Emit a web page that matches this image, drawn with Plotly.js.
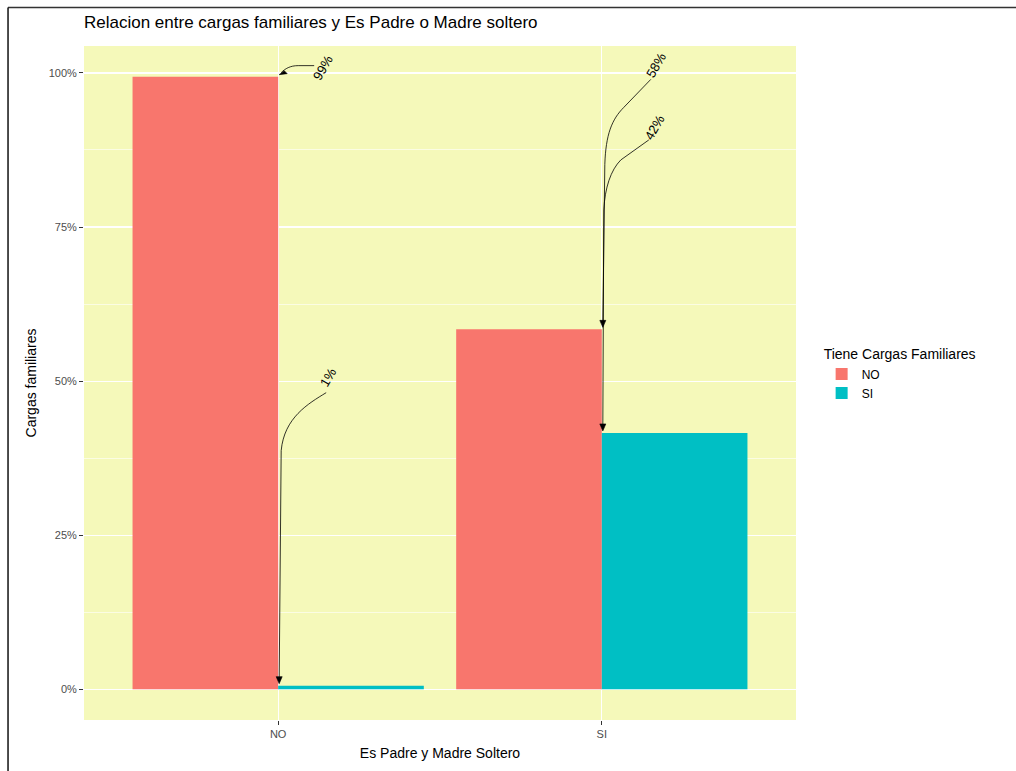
<!DOCTYPE html>
<html>
<head>
<meta charset="utf-8">
<script src="https://cdn.plot.ly/plotly-3.0.1.min.js"></script>
<style>html,body{margin:0;padding:0;background:#fff;}#chart{width:1016px;height:771px;}</style>
</head>
<body>
<div id="chart"></div>
<script>
// Data
const categories = ["NO", "SI"];           // Es Padre y Madre Soltero
const seriesNames = ["NO", "SI"];          // Tiene Cargas Familiares
const valuesNO = [0.994, 0.584];           // Tiene cargas = NO
const valuesSI = [0.006, 0.416];           // Tiene cargas = SI
const labelsNO = ["99%", "58%"];
const labelsSI = ["1%", "42%"];
const yTickVals = [0, 0.25, 0.5, 0.75, 1];
const yTickText = ["0%", "25%", "50%", "75%", "100%"];

const colors = ["#F8766D", "#00BFC4"];

const traces = [
  {type: "bar", name: seriesNames[0], x: categories, y: valuesNO, marker: {color: colors[0]}, hoverinfo: "skip"},
  {type: "bar", name: seriesNames[1], x: categories, y: valuesSI, marker: {color: colors[1]}, hoverinfo: "skip"}
];

// Callout styling (pixel offsets relative to the data point)
const callouts = [
  {cat: categories[0], val: valuesNO[0], text: labelsNO[0], tx: 45, ty: 9,
   path: "M 36,11 L 20,11 C 12,11 7,8 3,4"},
  {cat: categories[0], val: valuesSI[0], text: labelsSI[0], tx: 50, ty: 308,
   path: "M 48,293 C 30,282 6,268 3,235 L 1,5"},
  {cat: categories[1], val: valuesNO[1], text: labelsNO[1], tx: 54, ty: 264,
   path: "M 49,250 L 22,222 C 10,210 4,195 3,165 L 1,6"},
  {cat: categories[1], val: valuesSI[1], text: labelsSI[1], tx: 53, ty: 305,
   path: "M 47,293 L 19,273 C 9,263 3,245 2,223 L 1,5"}
];
const heads = [
  "M 1,2 L 9,3 L 6,6 Z",
  "M 1,2 L -2,9 L 4,9 Z",
  "M 1,2 L -2,9 L 4,9 Z",
  "M 1,2 L -2,9 L 4,9 Z"
];

const shapes = [];
const annotations = [];
callouts.forEach((c, i) => {
  shapes.push({type: "path", xref: "x", yref: "y", xsizemode: "pixel", ysizemode: "pixel",
    xanchor: c.cat, yanchor: c.val, path: c.path, line: {color: "#000", width: 0.8}});
  shapes.push({type: "path", xref: "x", yref: "y", xsizemode: "pixel", ysizemode: "pixel",
    xanchor: c.cat, yanchor: c.val, path: heads[i], fillcolor: "#000", line: {color: "#000", width: 0.6}});
  annotations.push({x: c.cat, y: c.val, xref: "x", yref: "y", text: c.text, showarrow: false,
    xshift: c.tx, yshift: c.ty, textangle: -60,
    font: {family: "Liberation Sans, Arial, sans-serif", size: 13, color: "#000"}});
});
// outer frame (top and left edges)
shapes.push({type: "line", xref: "paper", yref: "paper", x0: -0.1067, x1: 1.45, y0: 1.057, y1: 1.057, line: {color: "#333", width: 1.5}, layer: "above"});
shapes.push({type: "line", xref: "paper", yref: "paper", x0: -0.1067, x1: -0.1067, y0: 1.057, y1: -0.2, line: {color: "#111", width: 1.5}, layer: "above"});

const layout = {
  width: 1016, height: 771,
  margin: {l: 84, r: 220, t: 46, b: 51, pad: 0},
  paper_bgcolor: "#FFFFFF",
  plot_bgcolor: "#F5F9BA",
  barmode: "group",
  bargap: 0.1, bargroupgap: 0,
  font: {family: "Liberation Sans, Arial, sans-serif", color: "#000"},
  title: {text: "Relacion entre cargas familiares y Es Padre o Madre soltero",
    x: 84/1016, xanchor: "left", y: 1 - 22/771, yanchor: "middle",
    font: {size: 17, color: "#000"}},
  xaxis: {type: "category", range: [-0.6, 1.6], showgrid: true, gridcolor: "#FFFFFF", gridwidth: 1.2,
    zeroline: false, showline: false, ticks: "outside", ticklen: 4, tickcolor: "#333",
    tickfont: {size: 11, color: "#4D4D4D"},
    title: {text: "Es Padre y Madre Soltero", font: {size: 14, color: "#000"}, standoff: 8}},
  yaxis: {range: [-0.0497, 1.0437], tickvals: yTickVals, ticktext: yTickText,
    showgrid: true, gridcolor: "#FFFFFF", gridwidth: 1.2, zeroline: false, showline: false,
    ticks: "outside", ticklen: 4, tickcolor: "#333",
    tickfont: {size: 11, color: "#4D4D4D"},
    minor: {tickvals: [0.125, 0.375, 0.625, 0.875], showgrid: true, gridcolor: "#FFFFFF", gridwidth: 0.6, ticks: ""},
    title: {text: "Cargas familiares", font: {size: 14, color: "#000"}, standoff: 8}},
  legend: {x: 1.036, y: 0.562, xanchor: "left", yanchor: "top",
    title: {text: "Tiene Cargas Familiares", font: {size: 14, color: "#000"}},
    font: {size: 12, color: "#000"}, itemwidth: 30, tracegroupgap: 2},
  shapes: shapes,
  annotations: annotations
};

Plotly.newPlot("chart", traces, layout, {displayModeBar: false, staticPlot: true});
</script>
</body>
</html>
